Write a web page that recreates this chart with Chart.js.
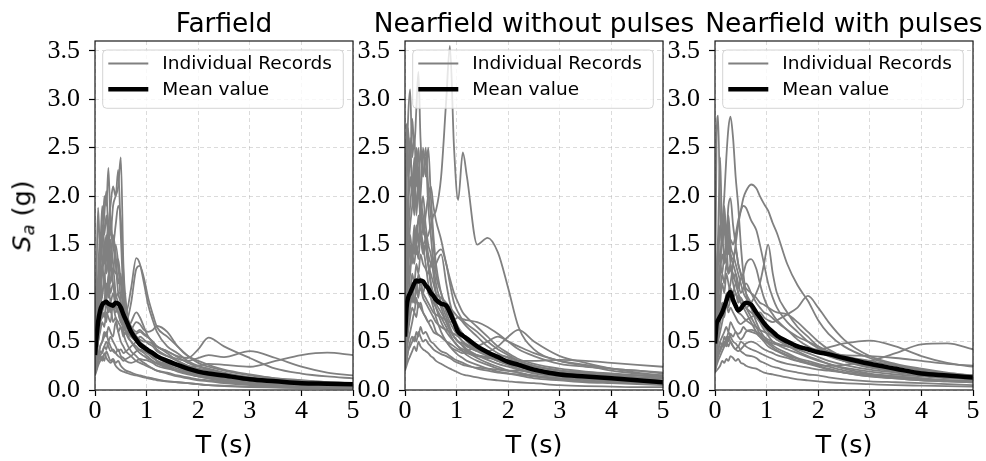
<!DOCTYPE html>
<html><head><meta charset="utf-8">
<script src="https://cdn.jsdelivr.net/npm/chart.js@4.4.1/dist/chart.umd.min.js"></script>
<style>
html,body{margin:0;padding:0;background:#fff;width:986px;height:461px;overflow:hidden;position:relative}
canvas{position:absolute;top:30px}
.t{position:absolute;font-family:'DejaVu Sans';color:#000;white-space:nowrap;line-height:1;transform:translateX(-50%)}
.yl{position:absolute;font-family:'DejaVu Sans';color:#000;white-space:nowrap;line-height:1;font-size:25.5px;transform:translate(-50%,-50%) rotate(-90deg)}
.yl sub{font-size:0.7em;vertical-align:-0.2em}
</style></head><body>
<canvas id="c0" width="334" height="400" style="left:35px"></canvas>
<canvas id="c1" width="334" height="400" style="left:345px"></canvas>
<canvas id="c2" width="334" height="400" style="left:655px"></canvas>
<div class="t" style="left:224px;top:10px;font-size:26.4px">Farfield</div>
<div class="t" style="left:534px;top:10px;font-size:26.4px">Nearfield without pulses</div>
<div class="t" style="left:844px;top:10px;font-size:26.4px">Nearfield with pulses</div>
<div class="t" style="left:224px;top:432px;font-size:25.5px">T (s)</div>
<div class="t" style="left:534px;top:432px;font-size:25.5px">T (s)</div>
<div class="t" style="left:844px;top:432px;font-size:25.5px">T (s)</div>
<div class="yl" style="left:23px;top:216px"><i>S</i><sub><i>a</i></sub> (g)</div>
<script>
// ---- data ----
const periods = [0,0.03,0.06,0.1,0.14,0.18,0.22,0.26,0.3,0.35,0.4,0.45,0.5,0.55,0.6,0.7,0.8,0.87,0.95,1.03,1.12,1.2,1.4,1.6,1.8,2.0,2.2,2.5,3.0,3.5,4.0,4.5,5.0];
const xTicks = [0,1,2,3,4,5];
const yTicks = [0,0.5,1,1.5,2,2.5,3,3.5];
const legendLabels = ['Individual Records','Mean value'];

const farfieldRecords = [
 [0.4,0.6,0.9,1.1,1.3,1.5,1.4,1.7,1.6,1.9,2.0,2.1,2.4,1.3,0.9,0.6,0.5,0.45,0.42,0.39,0.35,0.3,0.25,0.2,0.17,0.14,0.12,0.1,0.07,0.05,0.04,0.035,0.03],
 [0.35,0.8,1.2,1.6,1.5,2.0,1.9,2.29,1.7,1.5,1.3,1.0,0.9,0.7,0.6,0.5,0.42,0.38,0.35,0.32,0.3,0.27,0.23,0.19,0.16,0.14,0.12,0.09,0.07,0.05,0.04,0.035,0.03],
 [0.45,1.2,1.88,1.4,1.6,1.3,1.5,1.7,1.9,2.1,2.0,2.27,1.6,1.0,0.8,0.65,0.55,0.49,0.44,0.39,0.36,0.33,0.28,0.24,0.2,0.17,0.15,0.12,0.09,0.07,0.05,0.045,0.04],
 [0.3,0.45,0.6,0.8,1.0,1.1,0.9,1.2,1.0,1.1,0.95,1.0,1.0,0.85,0.8,1.05,1.36,1.3,1.1,0.88,0.72,0.6,0.45,0.38,0.3,0.25,0.22,0.18,0.13,0.1,0.08,0.07,0.06],
 [0.25,0.35,0.5,0.7,0.8,0.9,1.1,0.95,1.3,1.1,0.9,0.8,0.7,0.75,0.7,0.9,1.25,1.28,1.15,0.95,0.78,0.65,0.55,0.45,0.35,0.28,0.24,0.2,0.15,0.12,0.1,0.08,0.07],
 [0.3,0.4,0.5,0.7,0.8,0.75,0.9,0.8,0.85,0.7,0.75,0.6,0.65,0.55,0.6,0.55,0.58,0.6,0.57,0.54,0.5,0.45,0.4,0.35,0.33,0.42,0.54,0.45,0.33,0.22,0.17,0.14,0.12],
 [0.2,0.3,0.35,0.45,0.5,0.55,0.6,0.5,0.55,0.5,0.45,0.4,0.42,0.38,0.4,0.45,0.5,0.55,0.52,0.48,0.45,0.4,0.35,0.32,0.3,0.33,0.36,0.34,0.4,0.33,0.24,0.18,0.15],
 [0.2,0.25,0.3,0.35,0.4,0.45,0.5,0.45,0.4,0.42,0.38,0.35,0.33,0.3,0.32,0.35,0.4,0.42,0.4,0.37,0.33,0.3,0.27,0.25,0.24,0.25,0.27,0.26,0.24,0.3,0.36,0.385,0.36],
 [0.3,0.5,0.8,1.2,1.5,1.8,2.05,1.6,1.4,1.2,1.5,1.3,0.9,0.6,0.5,0.4,0.35,0.31,0.28,0.25,0.22,0.2,0.17,0.14,0.12,0.1,0.09,0.07,0.05,0.04,0.03,0.03,0.025],
 [0.2,0.3,0.35,0.45,0.5,0.6,0.55,0.65,0.6,0.55,0.7,0.6,0.5,0.45,0.4,0.35,0.3,0.28,0.26,0.24,0.22,0.2,0.18,0.15,0.13,0.11,0.1,0.08,0.06,0.05,0.04,0.035,0.03],
 [0.15,0.2,0.25,0.3,0.35,0.3,0.4,0.35,0.3,0.32,0.28,0.3,0.25,0.22,0.2,0.18,0.16,0.15,0.14,0.13,0.12,0.11,0.09,0.08,0.07,0.06,0.05,0.045,0.035,0.03,0.025,0.02,0.02],
 [0.35,0.6,0.9,1.3,1.7,1.5,1.2,1.4,1.1,1.25,1.0,0.9,0.8,0.7,0.72,0.65,0.6,0.62,0.58,0.55,0.48,0.42,0.35,0.3,0.25,0.22,0.2,0.17,0.12,0.1,0.08,0.07,0.06],
 [0.25,0.4,0.55,0.7,0.75,0.8,0.7,0.9,0.8,0.85,0.75,0.7,0.65,0.6,0.58,0.62,0.7,0.68,0.62,0.6,0.62,0.66,0.6,0.45,0.35,0.3,0.26,0.21,0.16,0.12,0.1,0.08,0.07],
 [0.4,0.7,1.0,1.4,1.9,1.6,1.8,1.5,1.3,1.6,1.4,1.1,1.2,0.8,0.6,0.5,0.45,0.41,0.38,0.34,0.3,0.28,0.24,0.2,0.18,0.15,0.13,0.11,0.08,0.06,0.05,0.04,0.035],
 [0.18,0.25,0.3,0.4,0.38,0.45,0.42,0.5,0.45,0.4,0.38,0.42,0.35,0.33,0.3,0.28,0.3,0.32,0.31,0.3,0.28,0.25,0.22,0.2,0.18,0.17,0.15,0.13,0.1,0.08,0.06,0.05,0.05],
 [0.3,0.45,0.7,0.95,1.2,1.4,1.6,1.3,1.8,1.5,1.7,1.9,1.75,1.2,0.7,0.55,0.5,0.46,0.42,0.38,0.34,0.3,0.26,0.22,0.19,0.16,0.14,0.12,0.09,0.07,0.06,0.05,0.04],
 [0.28,0.5,0.75,1.0,1.3,1.1,1.45,1.2,1.55,1.3,1.2,1.35,1.1,0.9,0.75,0.6,0.55,0.5,0.46,0.42,0.38,0.35,0.3,0.26,0.22,0.19,0.16,0.13,0.1,0.08,0.06,0.05,0.045],
 [0.22,0.35,0.5,0.6,0.7,0.65,0.8,0.75,0.7,0.9,0.8,0.85,0.75,0.7,0.65,0.6,0.55,0.52,0.5,0.5,0.47,0.45,0.38,0.3,0.25,0.21,0.18,0.15,0.11,0.09,0.07,0.06,0.05],
 [0.3,0.55,0.85,1.1,0.95,1.2,1.0,1.1,0.9,1.0,0.85,0.8,0.7,0.65,0.6,0.7,0.8,0.75,0.65,0.55,0.5,0.45,0.4,0.34,0.28,0.24,0.21,0.17,0.13,0.1,0.08,0.07,0.06],
 [0.16,0.22,0.28,0.35,0.3,0.38,0.33,0.3,0.28,0.3,0.25,0.22,0.2,0.19,0.18,0.16,0.15,0.14,0.13,0.12,0.11,0.1,0.09,0.08,0.07,0.06,0.05,0.04,0.03,0.025,0.02,0.018,0.016]
];
const farfieldMean = [0.36,0.55,0.7,0.82,0.88,0.9,0.91,0.89,0.88,0.87,0.9,0.89,0.85,0.78,0.72,0.6,0.52,0.47,0.44,0.41,0.38,0.35,0.3,0.26,0.22,0.19,0.17,0.15,0.11,0.09,0.07,0.065,0.06];

const nearNoPulseRecords = [
 [0.6,1.0,1.2,1.5,1.3,1.6,1.4,1.5,1.6,1.5,1.55,1.6,1.7,1.8,1.85,2.2,3.0,3.55,2.5,1.96,2.45,2.2,1.5,1.57,1.42,1.05,0.65,0.42,0.3,0.25,0.2,0.17,0.15],
 [0.9,2.0,2.7,2.3,2.8,2.5,2.9,3.28,2.6,2.2,2.4,1.9,1.6,1.3,1.1,0.9,0.75,0.65,0.55,0.5,0.45,0.4,0.33,0.28,0.24,0.2,0.18,0.15,0.12,0.1,0.08,0.07,0.06],
 [0.7,2.2,2.8,3.1,2.4,2.6,2.2,2.5,2.0,1.8,1.5,1.3,1.1,0.95,0.85,0.7,0.6,0.55,0.5,0.45,0.4,0.36,0.3,0.26,0.22,0.2,0.18,0.14,0.11,0.09,0.08,0.07,0.06],
 [0.5,1.2,1.6,1.9,2.1,1.8,2.3,2.0,2.5,2.2,2.5,2.1,1.8,1.5,1.2,1.0,0.85,0.75,0.68,0.6,0.55,0.5,0.42,0.36,0.3,0.26,0.22,0.18,0.14,0.12,0.1,0.09,0.08],
 [0.4,0.8,1.1,1.3,1.5,1.4,1.7,1.5,1.9,1.6,1.8,2.0,2.1,1.9,1.75,1.55,1.3,1.15,1.0,0.9,0.8,0.75,0.65,0.55,0.45,0.38,0.32,0.27,0.22,0.19,0.17,0.15,0.13],
 [0.35,0.6,0.8,1.0,1.2,1.1,1.3,1.2,1.4,1.3,1.25,1.2,1.3,1.35,1.4,1.45,1.3,1.1,0.9,0.8,0.72,0.68,0.6,0.5,0.42,0.36,0.3,0.25,0.2,0.17,0.15,0.13,0.12],
 [0.3,0.5,0.7,0.9,1.0,0.9,1.1,1.0,1.05,0.95,0.9,0.85,0.8,0.75,0.7,0.65,0.62,0.6,0.58,0.55,0.5,0.47,0.42,0.4,0.45,0.55,0.62,0.5,0.35,0.28,0.22,0.18,0.15],
 [0.4,0.6,0.8,1.0,0.9,1.1,1.0,1.2,1.1,1.0,0.95,0.9,0.85,0.8,0.78,0.75,0.72,0.7,0.72,0.75,0.73,0.72,0.7,0.65,0.58,0.5,0.42,0.35,0.27,0.24,0.22,0.2,0.17],
 [0.25,0.4,0.5,0.6,0.7,0.8,0.75,0.9,0.85,0.8,0.75,0.7,0.72,0.68,0.6,0.55,0.5,0.48,0.45,0.42,0.4,0.38,0.35,0.33,0.32,0.31,0.3,0.3,0.31,0.3,0.28,0.26,0.24],
 [0.2,0.25,0.3,0.35,0.4,0.45,0.4,0.5,0.45,0.42,0.4,0.38,0.35,0.33,0.3,0.27,0.24,0.22,0.2,0.18,0.16,0.15,0.13,0.11,0.1,0.09,0.08,0.07,0.05,0.04,0.035,0.03,0.03],
 [0.8,2.75,2.2,2.6,2.0,2.3,1.8,2.1,1.7,1.5,1.3,1.1,0.95,0.85,0.75,0.6,0.5,0.45,0.4,0.36,0.33,0.3,0.26,0.22,0.19,0.17,0.15,0.12,0.1,0.08,0.07,0.06,0.05],
 [0.22,0.3,0.4,0.5,0.55,0.5,0.6,0.55,0.65,0.58,0.6,0.55,0.5,0.48,0.45,0.4,0.38,0.35,0.32,0.3,0.28,0.26,0.22,0.2,0.18,0.17,0.16,0.14,0.12,0.11,0.1,0.09,0.08],
 [0.45,1.0,1.4,1.7,1.9,2.2,1.9,2.1,1.8,2.0,1.7,1.5,1.4,1.2,1.0,0.85,0.7,0.62,0.55,0.5,0.48,0.45,0.4,0.38,0.36,0.34,0.3,0.25,0.2,0.18,0.16,0.15,0.14],
 [0.3,0.45,0.6,0.75,0.85,0.8,0.95,0.85,0.9,0.8,0.75,0.7,0.65,0.6,0.58,0.55,0.5,0.45,0.42,0.4,0.38,0.4,0.45,0.5,0.55,0.5,0.45,0.38,0.3,0.26,0.22,0.2,0.18],
 [0.35,0.7,0.9,1.2,1.4,1.3,1.5,1.35,1.6,1.45,1.5,1.3,1.2,1.1,1.0,0.95,0.9,0.85,0.8,0.75,0.7,0.65,0.55,0.45,0.38,0.33,0.28,0.24,0.2,0.17,0.15,0.13,0.12],
 [0.5,1.3,1.8,2.2,2.0,2.4,2.1,2.3,2.0,2.5,2.2,2.5,2.0,1.6,1.3,1.0,0.8,0.7,0.62,0.56,0.5,0.46,0.4,0.35,0.3,0.27,0.24,0.2,0.16,0.14,0.12,0.1,0.09],
 [0.35,0.9,1.3,1.6,1.4,1.7,1.5,1.8,1.6,1.4,1.5,1.3,1.1,1.0,0.9,0.8,0.7,0.62,0.55,0.5,0.46,0.42,0.36,0.31,0.27,0.24,0.21,0.17,0.14,0.12,0.1,0.09,0.08],
 [0.25,0.5,0.7,0.85,1.0,0.9,1.05,0.95,1.15,1.0,1.1,1.0,0.95,0.9,0.85,0.75,0.65,0.58,0.5,0.45,0.42,0.4,0.36,0.34,0.3,0.28,0.26,0.22,0.18,0.15,0.13,0.11,0.1],
 [0.5,1.5,2.0,2.4,2.2,1.9,2.5,2.2,1.9,1.7,1.6,1.4,1.3,1.25,1.3,1.4,1.1,0.9,0.75,0.65,0.58,0.52,0.45,0.38,0.32,0.28,0.24,0.2,0.16,0.13,0.11,0.1,0.09],
 [0.22,0.3,0.4,0.45,0.5,0.55,0.5,0.6,0.55,0.5,0.52,0.48,0.45,0.42,0.4,0.37,0.35,0.33,0.3,0.28,0.26,0.25,0.23,0.22,0.21,0.2,0.2,0.19,0.18,0.17,0.16,0.15,0.14]
];
const nearNoPulseMean = [0.55,0.85,0.95,1.0,1.05,1.1,1.13,1.12,1.13,1.12,1.08,1.05,1.0,0.97,0.93,0.89,0.87,0.8,0.7,0.6,0.56,0.53,0.45,0.39,0.34,0.29,0.26,0.21,0.16,0.14,0.12,0.1,0.08];

const nearPulseRecords = [
 [0.6,2.6,2.83,1.8,1.5,1.7,1.4,1.6,1.3,1.2,1.1,1.0,0.9,0.85,0.8,0.7,0.6,0.55,0.5,0.45,0.42,0.4,0.35,0.3,0.27,0.24,0.21,0.18,0.14,0.12,0.1,0.09,0.08],
 [0.5,0.8,1.0,1.3,1.7,2.0,2.4,2.7,2.82,2.6,2.2,1.9,1.5,1.2,1.0,0.85,0.7,0.62,0.55,0.5,0.46,0.43,0.38,0.33,0.3,0.27,0.24,0.2,0.16,0.14,0.12,0.1,0.09],
 [0.3,0.4,0.5,0.6,0.7,0.8,0.9,1.0,1.1,1.3,1.5,1.7,1.85,1.98,2.05,2.12,2.08,2.0,1.92,1.85,1.72,1.62,1.3,1.08,0.92,0.72,0.58,0.45,0.33,0.26,0.21,0.17,0.15],
 [0.4,0.7,0.9,1.2,1.4,1.3,1.6,1.4,1.55,1.5,1.6,1.75,1.85,1.9,1.88,1.75,1.65,1.5,1.3,1.1,0.95,0.85,0.7,0.6,0.5,0.43,0.37,0.3,0.24,0.2,0.17,0.15,0.13],
 [0.3,0.5,0.7,0.9,1.1,1.0,1.2,1.1,1.0,0.95,1.0,0.9,0.95,0.9,0.85,0.9,1.0,1.1,1.3,1.5,1.2,1.0,0.8,0.65,0.55,0.45,0.38,0.3,0.23,0.19,0.16,0.14,0.12],
 [0.25,0.4,0.55,0.7,0.8,0.75,0.9,0.8,0.85,0.8,0.75,0.7,0.68,0.7,0.72,0.75,0.78,0.8,0.75,0.72,0.7,0.72,0.78,0.85,0.97,0.85,0.7,0.52,0.35,0.27,0.22,0.18,0.15],
 [0.2,0.3,0.4,0.5,0.55,0.6,0.65,0.6,0.7,0.65,0.6,0.58,0.6,0.65,0.62,0.6,0.58,0.55,0.52,0.5,0.48,0.47,0.45,0.43,0.42,0.42,0.44,0.48,0.51,0.45,0.35,0.28,0.24],
 [0.2,0.25,0.3,0.35,0.4,0.45,0.5,0.45,0.5,0.45,0.42,0.4,0.42,0.45,0.48,0.5,0.48,0.45,0.42,0.4,0.38,0.36,0.33,0.3,0.28,0.26,0.25,0.26,0.3,0.38,0.47,0.48,0.42],
 [0.45,1.0,1.4,1.7,1.5,1.8,1.6,1.9,1.98,1.7,1.5,1.3,1.2,1.1,1.0,0.9,0.8,0.72,0.65,0.6,0.56,0.52,0.46,0.4,0.35,0.31,0.27,0.22,0.17,0.14,0.12,0.1,0.09],
 [0.18,0.2,0.22,0.25,0.3,0.28,0.32,0.3,0.35,0.33,0.3,0.32,0.28,0.27,0.25,0.23,0.22,0.2,0.18,0.17,0.16,0.15,0.13,0.11,0.1,0.09,0.08,0.07,0.06,0.05,0.045,0.04,0.035],
 [0.25,0.35,0.4,0.5,0.45,0.55,0.5,0.6,0.55,0.5,0.48,0.45,0.5,0.48,0.45,0.42,0.4,0.38,0.36,0.34,0.32,0.3,0.27,0.25,0.23,0.21,0.2,0.18,0.15,0.13,0.11,0.1,0.09],
 [0.35,0.8,1.1,1.3,1.2,1.4,1.3,1.5,1.4,1.35,1.45,1.3,1.2,1.1,1.05,1.0,0.95,0.9,0.88,0.85,0.82,0.8,0.78,0.7,0.6,0.5,0.42,0.34,0.26,0.22,0.19,0.16,0.14],
 [0.3,0.5,0.65,0.8,0.9,0.85,1.0,0.95,1.05,1.0,1.1,1.05,1.15,1.2,1.3,1.35,1.25,1.1,0.95,0.85,0.78,0.72,0.62,0.52,0.45,0.4,0.35,0.3,0.25,0.2,0.17,0.15,0.13],
 [0.3,0.45,0.6,0.75,0.85,0.8,0.9,0.85,0.95,0.9,0.85,0.8,0.78,0.75,0.72,0.68,0.65,0.62,0.6,0.58,0.55,0.52,0.48,0.45,0.42,0.4,0.38,0.36,0.35,0.33,0.3,0.27,0.25],
 [0.5,1.2,1.6,2.4,1.6,1.8,1.5,1.7,1.4,1.3,1.2,1.0,0.95,0.9,0.85,0.75,0.65,0.58,0.52,0.48,0.44,0.41,0.36,0.32,0.28,0.25,0.22,0.18,0.14,0.12,0.1,0.09,0.08],
 [0.2,0.3,0.35,0.4,0.45,0.5,0.45,0.55,0.5,0.45,0.42,0.45,0.4,0.38,0.36,0.35,0.33,0.3,0.28,0.26,0.24,0.23,0.2,0.18,0.16,0.15,0.13,0.11,0.09,0.08,0.07,0.06,0.05],
 [0.4,0.9,1.3,1.7,1.5,1.9,1.6,1.8,1.5,1.4,1.3,1.2,1.1,1.0,0.95,0.85,0.78,0.7,0.62,0.56,0.5,0.47,0.42,0.38,0.34,0.3,0.27,0.23,0.19,0.16,0.14,0.12,0.11],
 [0.3,0.6,0.8,1.0,1.2,1.1,1.3,1.2,1.25,1.15,1.2,1.1,1.0,1.05,1.1,1.0,0.9,0.85,0.8,0.78,0.74,0.7,0.62,0.55,0.5,0.45,0.4,0.35,0.3,0.25,0.2,0.17,0.15],
 [0.2,0.28,0.35,0.42,0.48,0.45,0.55,0.5,0.58,0.55,0.6,0.55,0.52,0.55,0.6,0.62,0.6,0.58,0.55,0.52,0.5,0.48,0.45,0.42,0.38,0.34,0.3,0.26,0.21,0.18,0.15,0.13,0.12],
 [0.45,1.1,1.5,1.3,1.6,1.35,1.5,1.2,1.3,1.1,1.0,0.95,0.9,0.88,0.85,0.8,0.75,0.7,0.66,0.62,0.58,0.55,0.5,0.46,0.43,0.4,0.36,0.31,0.25,0.2,0.17,0.15,0.13]
];
const nearPulseMean = [0.48,0.68,0.72,0.76,0.8,0.86,0.92,0.98,1.01,0.93,0.87,0.82,0.84,0.88,0.9,0.88,0.8,0.75,0.69,0.64,0.6,0.56,0.5,0.45,0.42,0.39,0.37,0.33,0.27,0.22,0.17,0.15,0.13];

// ---- styles ----
const RECORD_COLOR = '#808080';
const MEAN_COLOR = '#000000';
const GRID_COLOR = 'rgba(176,176,176,0.45)';

const toXY = arr => periods.map((t, i) => ({x: t, y: arr[i]}));

const panelPlugin = {
  id: 'panelDecor',
  afterDatasetsDraw(chart) {
    const ctx = chart.ctx, a = chart.chartArea;
    ctx.save();
    const x = a.left + 7.7, y = a.top + 9, w = 240.6, h = 58.3;
    ctx.beginPath();
    ctx.roundRect(x, y, w, h, 4);
    ctx.fillStyle = 'rgba(255,255,255,0.8)';
    ctx.fill();
    ctx.strokeStyle = 'rgba(204,204,204,0.85)';
    ctx.lineWidth = 1;
    ctx.stroke();
    const rows = [{c: RECORD_COLOR, lw: 1.8, dy: 22.5}, {c: MEAN_COLOR, lw: 4.5, dy: 48.3}];
    ctx.font = '18.5px "DejaVu Sans"';
    ctx.textBaseline = 'middle';
    ctx.textAlign = 'left';
    rows.forEach((r, i) => {
      ctx.beginPath();
      ctx.strokeStyle = r.c; ctx.lineWidth = r.lw;
      ctx.moveTo(a.left + 13.3, a.top + r.dy);
      ctx.lineTo(a.left + 53.3, a.top + r.dy);
      ctx.stroke();
      ctx.fillStyle = '#000';
      ctx.fillText(legendLabels[i], a.left + 67.3, a.top + r.dy + 1);
    });
    ctx.restore();
  },
  afterDraw(chart) {
    const ctx = chart.ctx, a = chart.chartArea;
    ctx.save();
    ctx.strokeStyle = '#1a1a1a';
    ctx.lineWidth = 1.2;
    ctx.strokeRect(a.left, a.top, a.right - a.left, a.bottom - a.top);
    ctx.restore();
  }
};

function buildPanel(id, records, mean) {
  const datasets = records.map(r => ({
    data: toXY(r), borderColor: RECORD_COLOR, borderWidth: 1.8,
    pointRadius: 0, cubicInterpolationMode: 'monotone', order: 1
  }));
  datasets.push({
    data: toXY(mean), borderColor: MEAN_COLOR, borderWidth: 4.5,
    pointRadius: 0, cubicInterpolationMode: 'monotone', order: -1
  });
  new Chart(document.getElementById(id), {
    type: 'line',
    data: {datasets},
    plugins: [panelPlugin],
    options: {
      responsive: false, animation: false, events: [],
      layout: {padding: {top: 11, right: 16, bottom: 0, left: 0}},
      plugins: {legend: {display: false}, tooltip: {enabled: false}, title: {display: false}},
      scales: {
        x: {
          type: 'linear', min: 0, max: 5,
          afterBuildTicks: s => { s.ticks = xTicks.map(v => ({value: v})); },
          afterFit: s => { s.height = 40; s.paddingLeft = 0; s.paddingRight = 0; },
          ticks: {color: '#000', font: {family: 'Liberation Serif', size: 26}, padding: 0, maxRotation: 0,
                  callback: v => String(v)},
          grid: {color: GRID_COLOR, lineWidth: 1, drawTicks: true, tickLength: 6, tickColor: '#000', tickWidth: 1.2, tickBorderDash: []},
          border: {display: false, dash: [4, 3]}
        },
        y: {
          type: 'linear', min: 0, max: 3.6,
          afterBuildTicks: s => { s.ticks = yTicks.map(v => ({value: v})); },
          afterFit: s => { s.width = 60; s.paddingTop = 0; s.paddingBottom = 0; },
          ticks: {color: '#000', font: {family: 'Liberation Serif', size: 26}, padding: 9,
                  callback: v => Number(v).toFixed(1)},
          grid: {color: GRID_COLOR, lineWidth: 1, drawTicks: true, tickLength: 6, tickColor: '#000', tickWidth: 1.2, tickBorderDash: []},
          border: {display: false, dash: [4, 3]}
        }
      }
    }
  });
}

buildPanel('c0', farfieldRecords, farfieldMean);
buildPanel('c1', nearNoPulseRecords, nearNoPulseMean);
buildPanel('c2', nearPulseRecords, nearPulseMean);
</script>
</body></html>
